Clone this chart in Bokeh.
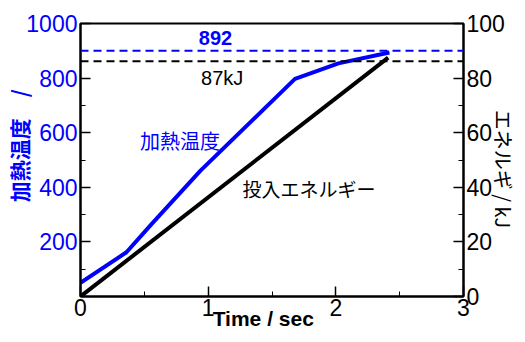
import math
from bokeh.plotting import figure
from bokeh.models import Range1d, LinearAxis, FixedTicker, Span, Label
from bokeh.embed import file_html
from bokeh.resources import INLINE

# data
temp_time = [0.0, 0.36, 0.56, 0.94, 1.68, 2.02, 2.42]
temp_vals = [50, 162, 267, 461, 797, 854, 894]
energy_time = [0.0, 2.41]
energy_vals = [0.0, 87.5]
temp_max = 900
energy_max = 86.2
x_ticks = [0, 1, 2, 3]
left_ticks = [200, 400, 600, 800, 1000]
right_ticks = [0, 20, 40, 60, 80, 100]

LAT = "Liberation Sans, 'Noto Sans CJK JP', sans-serif"
CJK = "'Noto Sans CJK JP', 'Liberation Sans', sans-serif"
BLUE = "#0000ff"
NB = "\u00a0"

p = figure(width=525, height=342, output_backend="svg", toolbar_location=None,
           x_range=Range1d(0, 3), y_range=Range1d(0, 1000),
           min_border_left=80, min_border_right=62, min_border_top=23, min_border_bottom=46)
p.xgrid.visible = False
p.ygrid.visible = False
p.outline_line_color = "black"
p.outline_line_width = 2
p.background_fill_color = "white"
p.border_fill_color = "white"

p.extra_y_ranges = {"e": Range1d(0, 100)}

def style_axis(ax, color):
    ax.axis_line_color = "black"
    ax.axis_line_width = 2
    ax.major_tick_line_color = "black"
    ax.minor_tick_line_color = "black"
    ax.major_tick_line_width = 1.5
    ax.minor_tick_line_width = 1
    ax.major_tick_in = 10
    ax.major_tick_out = 0
    ax.minor_tick_in = 5
    ax.minor_tick_out = 0
    ax.major_label_text_font = "Liberation Sans"
    ax.major_label_text_font_size = "23px"
    ax.major_label_text_color = color

xa = p.xaxis[0]
xa.ticker = FixedTicker(ticks=x_ticks, minor_ticks=[0.5, 1.5, 2.5])
style_axis(xa, "black")
xa.major_label_standoff = 2
xa.axis_label = "Time / sec" + NB * 3
xa.axis_label_text_font = LAT
xa.axis_label_text_font_size = "21px"
xa.axis_label_text_font_style = "bold"
xa.axis_label_text_color = "black"
xa.axis_label_standoff = -12

ya = p.yaxis[0]
ya.ticker = FixedTicker(ticks=left_ticks, minor_ticks=[100, 300, 500, 700, 900])
style_axis(ya, BLUE)
ya.major_label_standoff = 3
ya.axis_label = NB * 6 + "加熱温度　/"
ya.axis_label_text_font = CJK
ya.axis_label_text_font_size = "21px"
ya.axis_label_text_font_style = "bold"
ya.axis_label_text_color = BLUE
ya.axis_label_standoff = -11

ra = LinearAxis(y_range_name="e")
ra.ticker = FixedTicker(ticks=right_ticks, minor_ticks=[10, 30, 50, 70, 90])
style_axis(ra, "black")
ra.major_label_standoff = 3
ra.axis_label = NB * 4 + "エネルギ / kJ"
ra.axis_label_text_font = CJK
ra.axis_label_text_font_size = "20px"
ra.axis_label_text_font_style = "normal"
ra.axis_label_text_color = "black"
ra.axis_label_standoff = -19
ra.axis_label_orientation = "vertical"
p.add_layout(ra, "right")

# reference lines
p.add_layout(Span(location=temp_max, dimension="width", line_color=BLUE,
                  line_width=2, line_dash="8 5"))
p.add_layout(Span(location=energy_max, y_range_name="e", dimension="width",
                  line_color="black", line_width=2, line_dash="8 5"))

p.line(energy_time, energy_vals, y_range_name="e", line_color="black", line_width=4)
p.line(temp_time, temp_vals, line_color=BLUE, line_width=4)

def lab(x, y, text, color="black", size="20px", style="normal", font=LAT):
    p.add_layout(Label(x=x, y=y, text=text, text_color=color, text_font_size=size,
                       text_font_style=style, text_font=font,
                       text_align="center", text_baseline="middle"))

lab(1.057, 948, "892", BLUE, "20px", "bold")
lab(1.11, 801, "87kJ", "black", "20px")
lab(0.78, 571, "加熱温度", BLUE, "20px", font=CJK)
lab(1.79, 395, "投入エネルギー", "black", "19px", font=CJK)

open("out.html", "w").write(file_html(p, INLINE))
